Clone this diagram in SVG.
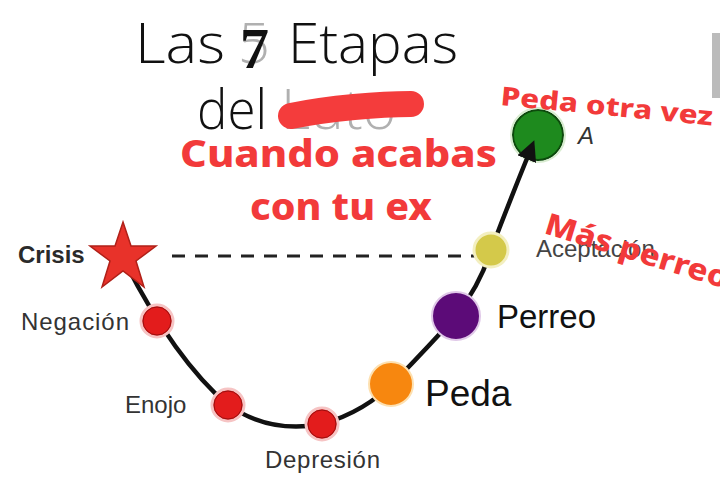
<svg xmlns="http://www.w3.org/2000/svg" width="720" height="492" viewBox="0 0 720 492">
<defs>
<style>
.title{font-family:"Open Sans",Roboto,sans-serif;font-weight:300;font-size:56px;fill:#111}
.gray{fill:#b0b0b0}
.lbl{font-family:"Liberation Sans",Arial,sans-serif;font-size:24px;fill:#333}
.big{font-family:"Liberation Sans",Arial,sans-serif;fill:#111}
.red{font-family:"Noto Sans","Open Sans",sans-serif;font-weight:800;fill:#f23a3a}
.rdot{fill:#e31c1c;stroke:#f6c4c4;stroke-width:3}
.rin{fill:none;stroke:#9a1010;stroke-width:1}
</style>
<marker id="arr" viewBox="0 0 10 10" refX="7" refY="5" markerWidth="4.5" markerHeight="4.5" orient="auto">
<path d="M0,0 L10,5 L0,10 z" fill="#111"/>
</marker>
</defs>
<rect width="720" height="492" fill="#fff"/>
<rect x="712" y="33" width="8" height="65" fill="#bbb"/>
<g id="title">
<text class="title" x="135" y="63" textLength="90" lengthAdjust="spacingAndGlyphs">Las</text>
<text class="title gray" x="238" y="63">5</text>
<text x="240" y="68" font-family="Liberation Serif,serif" font-weight="bold" font-size="58" fill="#111">7</text>
<text class="title" x="288" y="63" textLength="170" lengthAdjust="spacingAndGlyphs">Etapas</text>
<text class="title" x="197" y="129" textLength="70" lengthAdjust="spacingAndGlyphs">del</text>
<text class="title gray" x="281" y="129" textLength="115" lengthAdjust="spacingAndGlyphs">Luto</text>
<path d="M291,116 C330,108 380,104 411,104" stroke="#f43c3c" stroke-width="26" stroke-linecap="round" fill="none"/>
</g>
<g id="final">
<circle cx="538" cy="135" r="25" fill="#1e8a1e" stroke="#0d4a0d" stroke-width="2"/>
<circle cx="538" cy="135" r="27" fill="none" stroke="#d8ecd0" stroke-width="2"/>
<text class="lbl" x="578" y="144" font-size="17" font-style="italic" style="fill:#333">A</text>
</g>
<g id="connectors">
<line x1="172" y1="256" x2="475" y2="256" stroke="#222" stroke-width="3" stroke-dasharray="13,10"/>
<path d="M125,262 Q175,360 228,405 Q270,434 322,424 Q365,412 395,381 Q430,345 456,316 Q480,285 491,250 Q510,200 532,146" fill="none" stroke="#111" stroke-width="4.5" marker-end="url(#arr)"/>
</g>
<g id="crisis">
<polygon points="123,222 131,246 156,246 136,261 144,287 123,271 102,287 110,261 90,246 115,246" fill="#e8322a" stroke="#b02018" stroke-width="1.5"/>
<text class="lbl" x="18" y="263" font-weight="bold" style="fill:#2a2a2a">Crisis</text>
</g>
<g id="negacion">
<circle class="rdot" cx="157" cy="321" r="16"/>
<circle class="rin" cx="157" cy="321" r="14"/>
<text class="lbl" x="21" y="330" textLength="108">Negación</text>
</g>
<g id="enojo">
<circle class="rdot" cx="228" cy="405" r="16"/>
<circle class="rin" cx="228" cy="405" r="14"/>
<text class="lbl" x="125" y="413" font-size="25">Enojo</text>
</g>
<g id="depresion">
<circle class="rdot" cx="322" cy="424" r="16"/>
<circle class="rin" cx="322" cy="424" r="14"/>
<text class="lbl" x="265" y="468" textLength="115">Depresión</text>
</g>
<g id="peda">
<circle cx="391" cy="384" r="22" fill="#f7870f" stroke="#fde0b0" stroke-width="2"/>
<text class="big" x="425" y="406" font-size="37">Peda</text>
</g>
<g id="perreo">
<circle cx="456" cy="316" r="24" fill="#5c0b78" stroke="#e0c8e8" stroke-width="2"/>
<text class="big" x="497" y="328" font-size="33">Perreo</text>
</g>
<g id="aceptacion">
<circle cx="491" cy="250" r="17" fill="#d4c94a" stroke="#f3efc0" stroke-width="3"/>
<text class="lbl" x="536" y="257" style="fill:#444">Aceptación</text>
</g>
<g id="captions">
<text class="red" x="180" y="167" font-size="38" textLength="317" lengthAdjust="spacingAndGlyphs">Cuando acabas</text>
<text class="red" x="250" y="220" font-size="38" textLength="182" lengthAdjust="spacingAndGlyphs">con tu ex</text>
<text class="red" x="500" y="105" font-size="26" textLength="213" lengthAdjust="spacingAndGlyphs" transform="rotate(5.5 500 105)">Peda otra vez</text>
<text class="red" x="543" y="233" font-size="30" textLength="190" lengthAdjust="spacingAndGlyphs" transform="rotate(17 543 233)">Más perreo</text>
</g>
</svg>
